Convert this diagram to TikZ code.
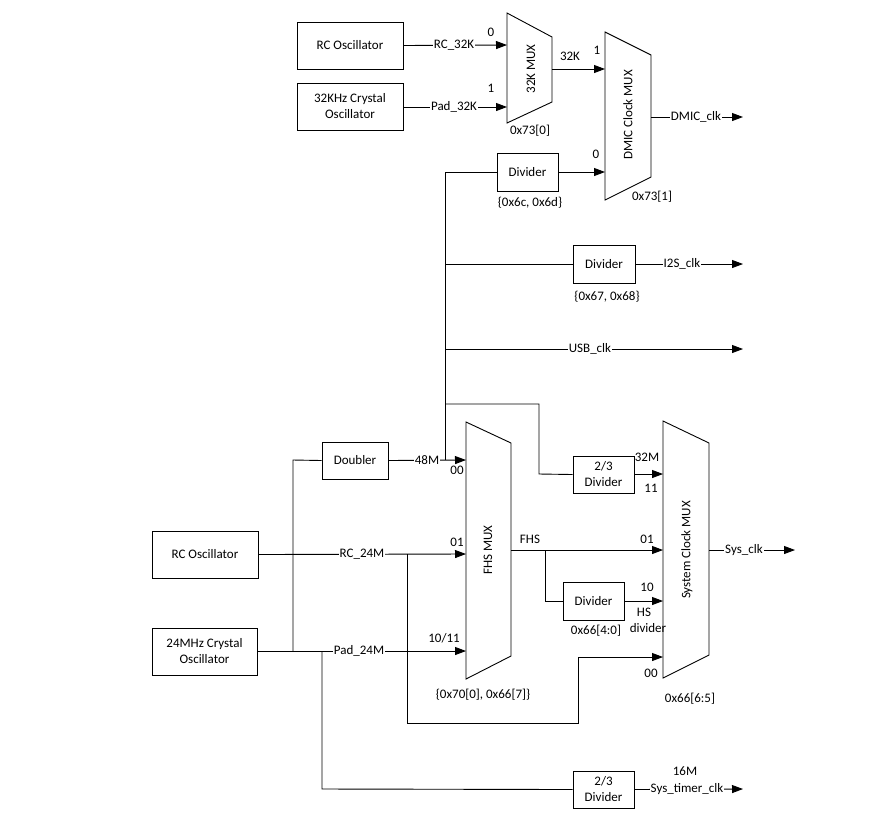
\documentclass[tikz,border=0pt]{standalone}
\usepackage{fontspec}
\setmainfont{Carlito}
\usetikzlibrary{arrows.meta}
\begin{document}
\begin{tikzpicture}[x=1pt,y=-1pt, font=\fontsize{13}{16}\selectfont, line width=0.9pt,
 box/.style={draw, inner sep=0pt, align=center, fill=white},
 lbl/.style={fill=white, inner sep=1pt},
 txt/.style={inner sep=0pt, align=center},
 mux/.style={draw, fill=white},
 arr/.style={-{Triangle[length=11pt,width=8pt]}}]
\useasboundingbox[fill=white] (0,0) rectangle (896,815);

% ---------- top section ----------
\node[box, minimum width=106pt, minimum height=47pt] (rc32) at (350,45.5) {RC Oscillator};
\node[box, minimum width=106pt, minimum height=47pt] (x32) at (350,106.5) {32KHz Crystal\\Oscillator};

% 32K MUX
\draw[mux] (507,13) -- (552,37) -- (552,102) -- (507,123) -- cycle;
\node[txt, rotate=90] (m32) at (531,69) {32K MUX};
\coordinate (m32i0) at (507,45);
\coordinate (m32i1) at (507,107);
\coordinate (m32o) at (552,69);

% DMIC MUX
\draw[mux] (605,32) -- (651,55) -- (651,177) -- (605,200) -- cycle;
\node[txt, rotate=90] (dm) at (628,115) {DMIC Clock MUX};
\coordinate (dmi1) at (605,69);
\coordinate (dmi0) at (605,172);
\coordinate (dmo) at (651,117);
\coordinate (dmend) at (743,117);

\draw[arr] (rc32.east) -- (m32i0);
\node[lbl] at (454,45) {RC\_32K};
\draw[arr] (x32.east |- m32i1) -- (m32i1);
\node[lbl] at (454,107) {Pad\_32K};
\node[txt] at (491,32) {0};
\node[txt] at (491,88) {1};
\node[txt] at (530,131) {0x73[0]};

\draw[arr] (m32o) -- (dmi1);
\node[txt] at (570,56) {32K};
\node[txt] at (597,50) {1};

\draw[arr] (dmo) -- (dmend);
\node[lbl] at (696,117) {DMIC\_clk};
\node[txt] at (652,197) {0x73[1]};

\node[box, minimum width=61pt, minimum height=38pt] (div1) at (527.5,172) {Divider};
\draw[arr] (div1.east) -- (dmi0);
\node[txt] at (596,154) {0};
\node[txt] at (530,203) {\{0x6c, 0x6d\}};

% ---------- 48M bus ----------
\coordinate (b172) at (445,172);
\coordinate (b264) at (445,264);
\coordinate (b349) at (445,349);
\coordinate (b404) at (445,404);
\coordinate (b460) at (445,460);
\draw (div1.west) -- (b172) -- (b460);

\node[box, minimum width=62pt, minimum height=38pt] (div2) at (604,264) {Divider};
\coordinate (i2send) at (743,264);
\draw (b264) -- (div2.west);
\draw[arr] (div2.east) -- (i2send);
\node[lbl] at (682,264) {I2S\_clk};
\node[txt] at (607,297) {\{0x67, 0x68\}};

\coordinate (usbend) at (743,349);
\draw[arr] (b349) -- (usbend);
\node[lbl] at (590,349) {USB\_clk};

% ---------- bottom section ----------
\node[box, minimum width=66pt, minimum height=37pt] (dbl) at (355,460.5) {Doubler};
\node[box, minimum width=106pt, minimum height=47pt] (rc24) at (205,554.5) {RC Oscillator};
\node[box, minimum width=105pt, minimum height=47pt] (x24) at (204.5,651.5) {24MHz Crystal\\Oscillator};

% FHS MUX
\draw[mux] (466,422) -- (511,443) -- (511,656) -- (466,679) -- cycle;
\node[txt, rotate=90] (fhs) at (488,550) {FHS MUX};
\coordinate (fi00) at (466,460);
\coordinate (fi01) at (466,554);
\coordinate (fi10) at (466,651);
\coordinate (fo) at (511,550);

% System clock MUX
\draw[mux] (663,421) -- (709,443) -- (709,655) -- (663,678) -- cycle;
\node[txt, rotate=90] (sm) at (687,550) {System Clock MUX};
\coordinate (si11) at (663,474);
\coordinate (si01) at (663,550);
\coordinate (si10) at (663,601);
\coordinate (si00) at (663,657);
\coordinate (so) at (709,550);
\coordinate (soend) at (795,550);

\coordinate (j293a) at (293,460);
\coordinate (j293b) at (293,651);
\coordinate (j322) at (322,651);
\coordinate (j322b) at (322,789);
\coordinate (j407) at (407,554);
\coordinate (j407b) at (407,723);
\coordinate (j578a) at (578,723);
\coordinate (j578b) at (578,657);

\draw[arr] (dbl.east) -- (fi00);
\node[lbl] at (427,460) {48M};
\draw (j293b) -- (j293a) -- (dbl.west);
\draw[arr] (rc24.east) -- (fi01);
\node[lbl] at (362,554) {RC\_24M};
\draw[arr] (x24.east |- fi10) -- (fi10);
\node[lbl] at (359,651) {Pad\_24M};
\node[txt] at (457,470) {00};
\node[txt] at (457,542) {01};
\node[txt] at (444,638) {10/11};
\node[txt] at (483,695) {\{0x70[0], 0x66[7]\}};

% 2/3 divider to sys mux
\node[box, minimum width=61pt, minimum height=37pt] (div23) at (603.5,474.5) {2/3\\Divider};
\draw (b404) -- (539,404) -- (539,474) -- (div23.west);
\draw[arr] (div23.east |- si11) -- (si11);
\node[txt] at (647,457) {32M};
\node[txt] at (651,488) {11};

% FHS out
\draw[arr] (fo) -- (si01);
\node[txt] at (530,539) {FHS};
\node[txt] at (647,539) {01};
\node[box, minimum width=61pt, minimum height=38pt] (hsdiv) at (593.5,601) {Divider};
\draw (545,550) -- (545,601) -- (hsdiv.west);
\draw[arr] (hsdiv.east) -- (si10);
\node[txt] at (647,587) {10};
\node[txt] at (644,612) {HS};
\node[txt] at (648,628) {divider};
\node[txt] at (596,631) {0x66[4:0]};

% RC 24M bypass to 00
\draw[arr] (j407) -- (j407b) -- (j578a) -- (j578b) -- (si00);
\node[txt] at (651,673) {00};
\node[txt] at (690,699) {0x66[6:5]};

\draw[arr] (so) -- (soend);
\node[lbl] at (744,550) {Sys\_clk};

% Sys timer
\node[box, minimum width=61pt, minimum height=37pt] (divt) at (603.5,789.5) {2/3\\Divider};
\coordinate (tend) at (743,789);
\draw (j322) -- (j322b) -- (divt.west);
\draw[arr] (divt.east) -- (tend);
\node[lbl] at (687,789) {Sys\_timer\_clk};
\node[txt] at (685,771) {16M};
\end{tikzpicture}
\end{document}
